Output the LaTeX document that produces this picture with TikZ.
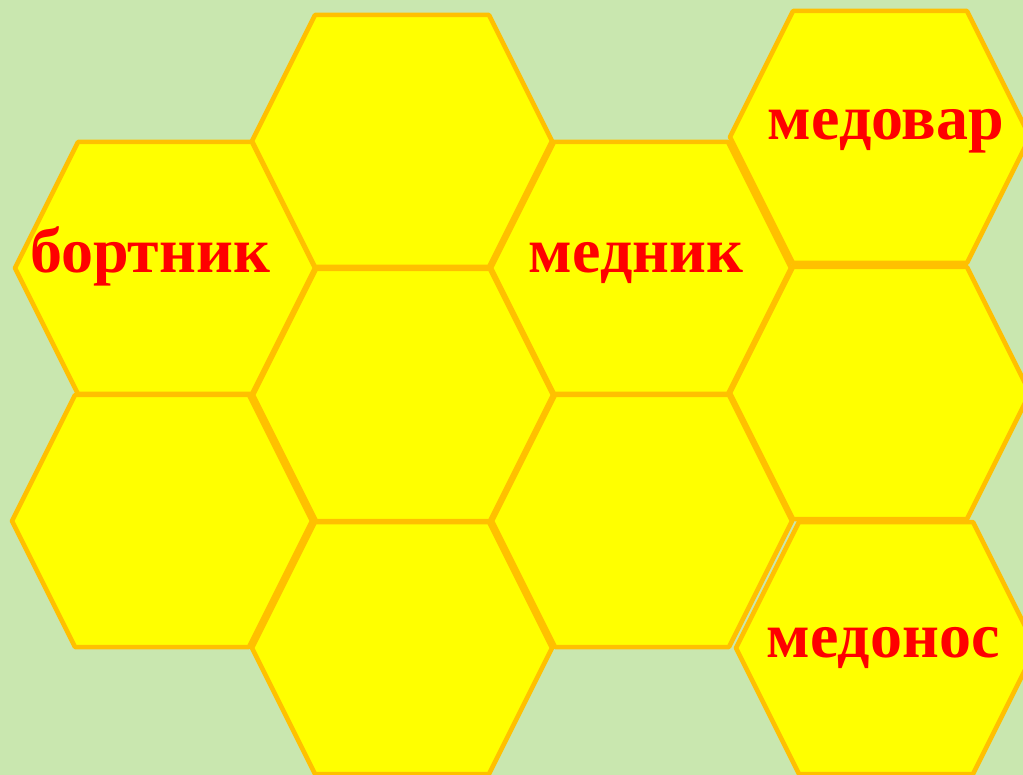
\documentclass[tikz,border=0pt]{standalone}
\usepackage{fontspec}
\setmainfont{Liberation Serif}
\definecolor{bgcol}{RGB}{201,231,175}
\definecolor{hexline}{HTML}{FFC000}
\definecolor{hexfill}{HTML}{FFFF00}
\definecolor{wordcol}{HTML}{FF0000}
\tikzset{
  hexcell/.style={draw=hexline, fill=hexfill, line width=4.5pt, line join=round},
  word/.style={anchor=base, text=wordcol, font=\fontsize{64}{64}\selectfont\bfseries, inner sep=0pt}
}
\begin{document}
\begin{tikzpicture}[x=1pt,y=-1pt]
\fill[bgcol] (0,0) rectangle (1023,775);
\useasboundingbox (0,0) rectangle (1023,775);
\foreach \cx/\cy in {165/268, 162/521, 402/141, 403/395, 402/648, 641/268, 642/521, 880/137, 880/393, 886/648}{
  \draw[hexcell] (\cx-150,\cy) -- (\cx-87,\cy-126) -- (\cx+87,\cy-126) -- (\cx+150,\cy) -- (\cx+87,\cy+126) -- (\cx-87,\cy+126) -- cycle;
}
\node[word] (bortnik) at (150,273) {бортник};
\node[word] (mednik) at (636,273) {медник};
\node[word] (medovar) at (886,140) {медовар};
\node[word] (medonos) at (883,657) {медонос};
\end{tikzpicture}
\end{document}
